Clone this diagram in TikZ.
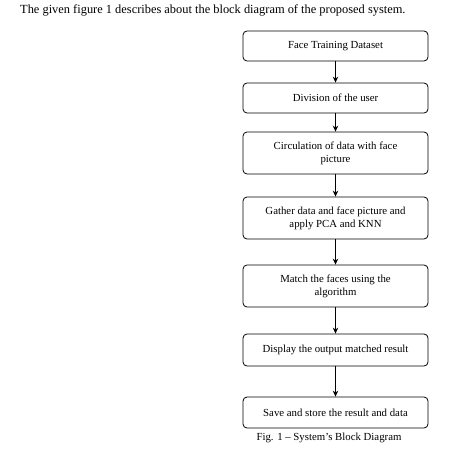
\documentclass[tikz,border=0pt]{standalone}
\usepackage{fontspec}
\setmainfont{Liberation Serif}
\usetikzlibrary{arrows.meta}
\tikzset{
  blockbox/.style={draw, rounded corners=4pt, line width=0.8pt, minimum width=185pt,
    inner sep=0pt, align=center, font=\fontsize{10.8}{13}\selectfont},
  flowarrow/.style={-{Stealth[length=6pt,width=5.5pt]}, line width=0.8pt}
}
\begin{document}
\begin{tikzpicture}[x=1pt,y=1pt]
  \useasboundingbox (0,0) rectangle (454,-449);
  % intro line
  \node[anchor=west, inner sep=0pt, font=\fontsize{12.4}{14}\selectfont] (intro) at (20,-10)
    {The given figure 1 describes about the block diagram of the proposed system.};
  % blocks
  \node[blockbox, minimum height=30pt] (dataset) at (335.5,-46) {Face Training Dataset};
  \node[blockbox, minimum height=30pt] (division) at (335.5,-98) {Division of the user};
  \node[blockbox, minimum height=42pt] (circulation) at (335.5,-153)
    {Circulation of data with face\\picture};
  \node[blockbox, minimum height=42pt] (gather) at (335.5,-218)
    {Gather data and face picture and\\apply PCA and KNN};
  \node[blockbox, minimum height=42pt] (match) at (335.5,-286)
    {Match the faces using the\\algorithm};
  \node[blockbox, minimum height=32pt] (display) at (335.5,-350)
    {Display the output matched result};
  \node[blockbox, minimum height=31pt] (store) at (335.5,-412.5)
    {Save and store the result and data};
  % arrows
  \draw[flowarrow] (dataset) -- (division);
  \draw[flowarrow] (division) -- (circulation);
  \draw[flowarrow] (circulation) -- (gather);
  \draw[flowarrow] (gather) -- (match);
  \draw[flowarrow] (match) -- (display);
  \draw[flowarrow] (display) -- (store);
  % caption
  \node[font=\fontsize{10.8}{12}\selectfont] (caption) at (329,-437.5)
    {Fig. 1 -- System’s Block Diagram};
\end{tikzpicture}
\end{document}
